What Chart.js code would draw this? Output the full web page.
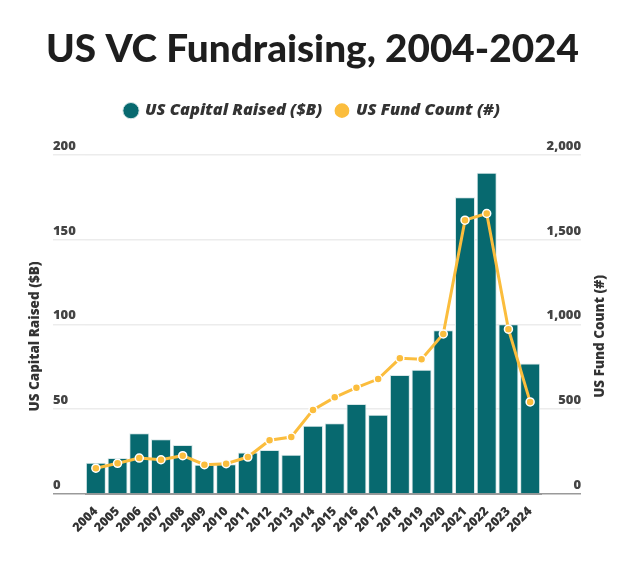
<!DOCTYPE html>
<html>
<head>
<meta charset="utf-8">
<script src="https://cdn.jsdelivr.net/npm/chart.js@4.4.1/dist/chart.umd.min.js"></script>
<style>
  html, body { margin: 0; padding: 0; background: #fff; }
  #wrap { width: 639px; height: 572px; }
</style>
</head>
<body>
<div id="wrap"><canvas id="vcChart" width="639" height="572"></canvas></div>
<script>
// Data
const years = ['2004', '2005', '2006', '2007', '2008', '2009', '2010', '2011', '2012', '2013', '2014',
    '2015', '2016', '2017', '2018', '2019', '2020', '2021', '2022', '2023', '2024'];
const capitalRaised = [18.5, 21.2, 35.8, 32.3, 28.9, 17.3, 17.5, 24.4, 26.0, 23.2, 40.3,
    41.7, 53.1, 46.8, 70.2, 73.2, 96.6, 175.0, 189.4, 100.1, 76.9];
const fundCount = [152, 181, 212, 202, 226, 173, 179, 218, 317, 336, 496,
    570, 627, 678, 800, 795, 944, 1615, 1654, 972, 543];
const capitalTicks = [0, 50, 100, 150, 200];
const countTicks = [0, 500, 1000, 1500, 2000];

const TEAL = '#07696f';
const GOLD = '#fbbd3d';
const TEXT_FONT = '"Open Sans"';

// Draws the y tick labels above their grid lines and both axis titles (reading bottom to top)
const axisTextPlugin = {
    id: 'axisText',
    afterDraw(chart) {
        const ctx = chart.ctx;
        const left = chart.scales.y;
        const right = chart.scales.y1;
        ctx.save();
        ctx.font = '800 13px ' + TEXT_FONT;
        ctx.fillStyle = '#444';
        ctx.textBaseline = 'alphabetic';
        ctx.textAlign = 'left';
        left.ticks.forEach(t => {
            ctx.fillText(t.label, left.right - 32, left.getPixelForValue(t.value) - 5);
        });
        ctx.textAlign = 'right';
        right.ticks.forEach(t => {
            ctx.fillText(t.label, right.left + 40, right.getPixelForValue(t.value) - 5);
        });

        // titles sit a little below the middle of the plot, as in the original
        const midY = (chart.chartArea.top + chart.chartArea.bottom) / 2 + 12;
        ctx.font = '800 13.5px ' + TEXT_FONT;
        ctx.fillStyle = '#333';
        ctx.textAlign = 'center';
        ctx.textBaseline = 'middle';
        [[left.right - 50, 'US Capital Raised ($B)'], [right.left + 59, 'US Fund Count (#)']].forEach(([x, text]) => {
            ctx.save();
            ctx.translate(x, midY);
            ctx.rotate(-Math.PI / 2);
            ctx.fillText(text, 0, 0);
            ctx.restore();
        });
        ctx.restore();
    }
};

// Leaves a gap between the legend and the plot
const legendGap = {
    id: 'legendGap',
    afterInit(chart) {
        const origFit = chart.legend.fit;
        chart.legend.fit = function fit() {
            origFit.bind(chart.legend)();
            this.height += 26;
        };
    }
};

const gridColor = (c) => c.tick && c.tick.value === 0 ? '#9a9a9a' : '#ececec';

new Chart(document.getElementById('vcChart'), {
    type: 'bar',
    data: {
        labels: years,
        datasets: [{
            type: 'bar',
            label: 'US Capital Raised ($B)',
            data: capitalRaised,
            backgroundColor: TEAL,
            borderColor: '#d8e7e8',
            borderWidth: 1,
            barPercentage: 0.92,
            categoryPercentage: 1.0,
            yAxisID: 'y',
            order: 2
        }, {
            type: 'line',
            label: 'US Fund Count (#)',
            data: fundCount,
            borderColor: GOLD,
            backgroundColor: GOLD,
            borderWidth: 3,
            pointRadius: 4,
            pointBorderColor: '#fff',
            pointBorderWidth: 1.5,
            pointBackgroundColor: GOLD,
            tension: 0,
            yAxisID: 'y1',
            order: 1
        }]
    },
    options: {
        responsive: false,
        animation: false,
        layout: { padding: { left: 13, right: 27, top: 0, bottom: 0 } },
        plugins: {
            title: {
                display: true,
                text: 'US VC Fundraising, 2004-2024',
                color: '#1e1e1e',
                font: { family: 'Lato', size: 38.7, weight: '900' },
                padding: { top: 26, bottom: 16 }
            },
            legend: {
                display: true,
                labels: {
                    usePointStyle: true,
                    pointStyle: 'circle',
                    boxWidth: 11.5,
                    boxHeight: 11.5,
                    padding: 14,
                    color: '#333',
                    font: { family: TEXT_FONT, size: 16.4, weight: '800', style: 'italic' },
                    sort: (a, b) => a.datasetIndex - b.datasetIndex
                }
            },
            tooltip: { enabled: false }
        },
        scales: {
            x: {
                grid: { display: false },
                border: { display: true, color: '#9a9a9a', width: 1 },
                ticks: {
                    autoSkip: false,
                    minRotation: 45,
                    maxRotation: 45,
                    padding: 2,
                    color: '#333',
                    font: { family: TEXT_FONT, size: 12.5, weight: '800' }
                },
                afterFit: (s) => { s.height = 78; }
            },
            y: {
                position: 'left',
                min: 0,
                max: 200,
                afterBuildTicks: (s) => { s.ticks = capitalTicks.map(v => ({ value: v })); },
                ticks: { display: false },
                border: { display: false },
                grid: { color: gridColor, lineWidth: 1.5, drawTicks: true, tickLength: 32 },
                afterFit: (s) => { s.width = 72; }
            },
            y1: {
                position: 'right',
                min: 0,
                max: 2000,
                afterBuildTicks: (s) => { s.ticks = countTicks.map(v => ({ value: v })); },
                ticks: { display: false, callback: (v) => v.toLocaleString('en-US') },
                border: { display: false },
                grid: { color: gridColor, lineWidth: 1.5, drawOnChartArea: false, drawTicks: true, tickLength: 40 },
                afterFit: (s) => { s.width = 71; }
            }
        }
    },
    plugins: [axisTextPlugin, legendGap]
});
</script>
</body>
</html>
